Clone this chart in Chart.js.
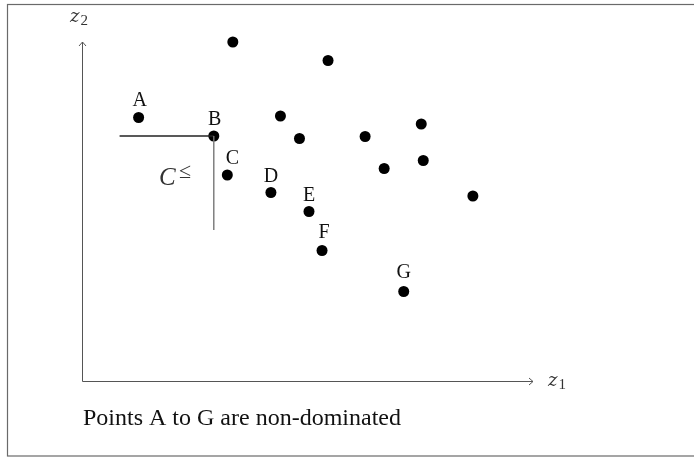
<!DOCTYPE html>
<html>
<head>
<meta charset="utf-8">
<script src="https://cdn.jsdelivr.net/npm/chart.js@4.4.0/dist/chart.umd.min.js"></script>
<style>
  html, body { margin: 0; padding: 0; background: #fff; }
</style>
</head>
<body>
<canvas id="paretoChart" width="694" height="458"></canvas>
<script>
// Non-dominated points A..G and the dominated rest (z1, z2)
const frontNames = ['A', 'B', 'C', 'D', 'E', 'F', 'G'];
const frontZ1 = [1.13, 2.63, 2.90, 3.77, 4.53, 4.79, 6.42];
const frontZ2 = [5.27, 4.90, 4.12, 3.77, 3.39, 2.61, 1.79];
const otherZ1 = [3.01, 4.91, 3.96, 4.34, 5.65, 6.77, 6.81, 6.03, 7.80];
const otherZ2 = [6.78, 6.41, 5.30, 4.85, 4.89, 5.14, 4.41, 4.25, 3.70];
// dominance cone drawn from B
const coneZ1 = [0.75, 2.63, 2.63];
const coneZ2 = [4.90, 4.90, 3.02];
const axisTitles = ['z', 'z'];
const axisSubs = ['1', '2'];
const coneLabel = 'C';
const caption = 'Points A to G are non-dominated';

const serif = '"Liberation Serif", "Times New Roman", serif';
// label offsets from the point (px), kept apart from the data
const labelShift = [[1, -12], [1, -11], [5, -11.5], [0, -11], [0, -11], [2, -12.5], [0, -14]];

const toXY = (xs, ys) => xs.map((x, i) => ({ x: x, y: ys[i] }));

// italic z with an upright subscript, like TeX
function mathLabel(ctx, sym, sub, x, y) {
    ctx.font = 'italic 18px "DejaVu Serif", serif';
    ctx.fillText(sym, x, y);
    const w = ctx.measureText(sym).width;
    ctx.font = '15px ' + serif;
    ctx.fillText(sub, x + w + 1, y + 3);
}

const decorations = {
    id: 'decorations',
    beforeDatasetsDraw(chart) {
        const { ctx, chartArea: a } = chart;
        ctx.save();
        // frame
        ctx.strokeStyle = '#6a6a6a';
        ctx.lineWidth = 1.2;
        ctx.strokeRect(7.5, 4.5, 700, 451.5);

        // axes with open arrow heads
        const ox = Math.round(a.left) + 0.5, oy = Math.round(a.bottom) + 0.5;
        ctx.strokeStyle = '#555';
        ctx.lineWidth = 1;
        ctx.beginPath();
        ctx.moveTo(ox, oy); ctx.lineTo(a.right, oy);
        ctx.moveTo(ox, oy); ctx.lineTo(ox, a.top + 1);
        ctx.stroke();
        ctx.beginPath();
        ctx.moveTo(a.right - 4, oy - 3.5); ctx.lineTo(a.right, oy); ctx.lineTo(a.right - 4, oy + 3.5);
        ctx.moveTo(ox - 3.5, a.top + 5); ctx.lineTo(ox, a.top + 1); ctx.lineTo(ox + 3.5, a.top + 5);
        ctx.stroke();
        ctx.restore();
    },
    afterDatasetsDraw(chart) {
        const { ctx, chartArea: a, scales } = chart;
        ctx.save();
        ctx.fillStyle = '#111';
        ctx.textBaseline = 'alphabetic';

        // point labels
        ctx.font = '20px ' + serif;
        ctx.textAlign = 'center';
        frontNames.forEach((name, i) => {
            const px = scales.x.getPixelForValue(frontZ1[i]);
            const py = scales.y.getPixelForValue(frontZ2[i]);
            ctx.fillText(name, px + labelShift[i][0], py + labelShift[i][1]);
        });

        // axis titles
        ctx.textAlign = 'left';
        ctx.fillStyle = '#333';
        mathLabel(ctx, axisTitles[0], axisSubs[0], a.right + 15, a.bottom + 5);
        mathLabel(ctx, axisTitles[1], axisSubs[1], a.left - 12, a.top - 19);

        // cone label C with superscript <=
        ctx.font = 'italic 25px ' + serif;
        ctx.fillText(coneLabel, 159, 185);
        ctx.font = '22px ' + serif;
        ctx.fillText('\u2264', 179, 178);

        // caption
        ctx.fillStyle = '#111';
        ctx.font = '24px ' + serif;
        ctx.fillText(caption, 83, 425);
        ctx.restore();
    }
};

new Chart(document.getElementById('paretoChart').getContext('2d'), {
    type: 'scatter',
    data: {
        datasets: [
            {
                label: 'cone',
                data: toXY(coneZ1, coneZ2),
                showLine: true,
                pointRadius: 0,
                borderWidth: 1.4,
                segment: { borderColor: c => c.p0DataIndex === 0 ? '#222' : '#777' },
                borderColor: '#222',
                clip: false
            },
            {
                label: 'non-dominated',
                data: toXY(frontZ1, frontZ2),
                pointRadius: 5.5,
                backgroundColor: '#000',
                borderWidth: 0,
                clip: false
            },
            {
                label: 'dominated',
                data: toXY(otherZ1, otherZ2),
                pointRadius: 5.5,
                backgroundColor: '#000',
                borderWidth: 0,
                clip: false
            }
        ]
    },
    options: {
        responsive: false,
        animation: false,
        devicePixelRatio: 1,
        layout: { padding: { left: 82, right: 161, top: 41, bottom: 77 } },
        scales: {
            x: { type: 'linear', min: 0, max: 9, display: false },
            y: { type: 'linear', min: 0, max: 6.8, display: false }
        },
        plugins: { legend: { display: false }, tooltip: { enabled: false } }
    },
    plugins: [decorations]
});
</script>
</body>
</html>
